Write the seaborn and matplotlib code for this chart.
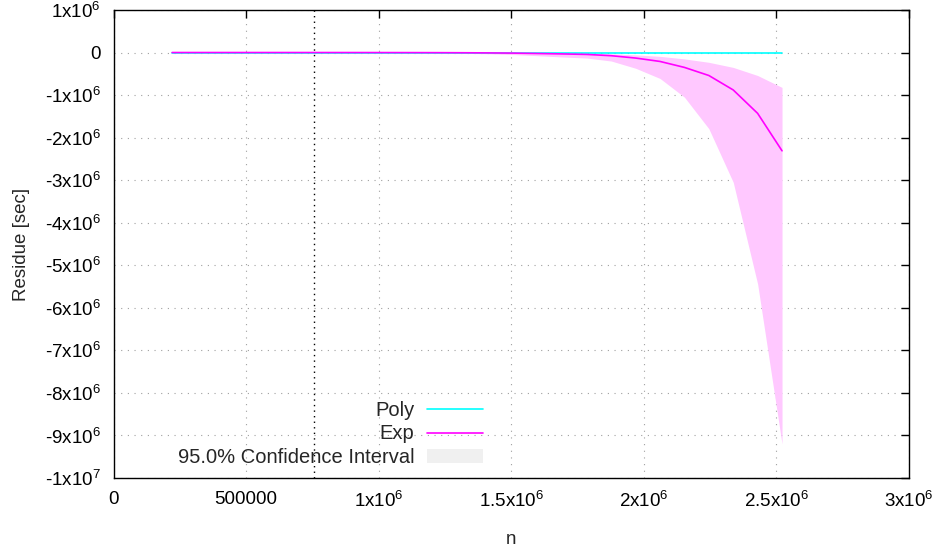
import numpy as np
import pandas as pd
import matplotlib
matplotlib.use("Agg")
import matplotlib.pyplot as plt
import seaborn as sns
from matplotlib.lines import Line2D
from matplotlib.patches import Patch
from matplotlib.ticker import FuncFormatter, MultipleLocator


# ==============================
# Data
# ==============================

n = [221000, 313000, 405000, 497000, 589000, 681000, 773000, 865000, 957000,
     1049000, 1141000, 1233000, 1325000, 1417000, 1509000, 1601000, 1693000,
     1785000, 1877000, 1969000, 2061000, 2153000, 2245000, 2337000, 2429000,
     2521000]

poly = [0, 0, 0, 0, 0, 0, 0, 0, 0, 0, 0, 0, 0, 0, 0, 0, 0, 0, 0, 0, 0, 0, 0,
        0, 0, 0]

exp_fit = [-20, -30, -50, -80, -130, -210, -330, -530, -850, -1400, -2200,
           -3500, -5600, -9000, -14000, -23000, -33000, -45000, -75000,
           -130000, -210000, -350000, -540000, -880000, -1430000, -2310000]

ci_upper = [-5, -10, -15, -25, -40, -60, -100, -160, -250, -400, -650,
            -1000, -1700, -2700, -4300, -7000, -11000, -18000, -30000,
            -55000, -90000, -150000, -230000, -350000, -540000, -820000]

ci_lower = [-60, -100, -160, -260, -420, -680, -1100, -1800, -2900, -4700,
            -7500, -12000, -19000, -30000, -48000, -75000, -105000,
            -130000, -200000, -370000, -610000, -1050000, -1790000, -3050000,
            -5440000, -9200000]

marker_n = 756000

df = pd.DataFrame({"n": n, "Poly": poly, "Exp": exp_fit})


# ==============================
# Style
# ==============================

sns.set_style("white")
plt.rcParams["font.family"] = ["Liberation Sans", "DejaVu Sans"]
plt.rcParams["mathtext.fontset"] = "custom"
plt.rcParams["mathtext.rm"] = "Liberation Sans"
plt.rcParams["mathtext.it"] = "Liberation Sans"
plt.rcParams["mathtext.default"] = "regular"

FS = 13.5


def gp_fmt(v, pos):
    if abs(v) < 1:
        return "0"
    if abs(v) < 1e6:
        return f"{v:.0f}"
    e = int(np.floor(np.log10(abs(v)) + 1e-9))
    m = round(v / 10 ** e, 3)
    m = f"{m:g}"
    return f"{m}x10$^{{{e}}}$"


# ==============================
# Plot
# ==============================

fig = plt.figure(figsize=(9.43, 5.48), dpi=100)
ax = fig.add_axes([0.1204, 0.1277, 0.8436, 0.8541])

ax.fill_between(df["n"], ci_lower, ci_upper, color="#ffc8ff", lw=0, zorder=1)
sns.lineplot(data=df, x="n", y="Poly", ax=ax, color="#00ffff", lw=1.2, zorder=3)
sns.lineplot(data=df, x="n", y="Exp", ax=ax, color="#ff00ff", lw=1.2, zorder=4)

ax.axvline(marker_n, color="black", ls=(0, (1, 3)), lw=1, zorder=2)

ax.set_xlim(0, 3e6)
ax.set_ylim(-1e7, 1e6)
ax.xaxis.set_major_locator(MultipleLocator(5e5))
ax.yaxis.set_major_locator(MultipleLocator(1e6))
ax.xaxis.set_major_formatter(FuncFormatter(gp_fmt))
ax.yaxis.set_major_formatter(FuncFormatter(gp_fmt))

ax.grid(True, color="#a0a0a0", ls=(0, (1, 5)), lw=0.8)
ax.tick_params(direction="in", length=6, width=1, top=True, right=True,
               labelsize=FS, colors="black", pad=9)
for s in ax.spines.values():
    s.set_color("black")
    s.set_linewidth(1)

ax.set_xlabel("n", fontsize=FS, labelpad=15)
ax.set_ylabel("Residue [sec]", fontsize=FS, labelpad=11)

handles = [
    Line2D([], [], color="#00ffff", lw=1.2),
    Line2D([], [], color="#ff00ff", lw=1.2),
    Patch(facecolor="#f0f0f0", edgecolor="none"),
]
labels = ["Poly", "Exp", "95.0% Confidence Interval"]
ax.legend(handles, labels, loc="lower right", bbox_to_anchor=(0.512, 0.148),
          bbox_transform=fig.transFigure, frameon=False, markerfirst=False,
          prop={"size": 14.5}, handlelength=2.75, handleheight=0.65,
          labelspacing=0.22, handletextpad=0.65, borderaxespad=0,
          borderpad=0)

fig.savefig("out.png", dpi=100)
